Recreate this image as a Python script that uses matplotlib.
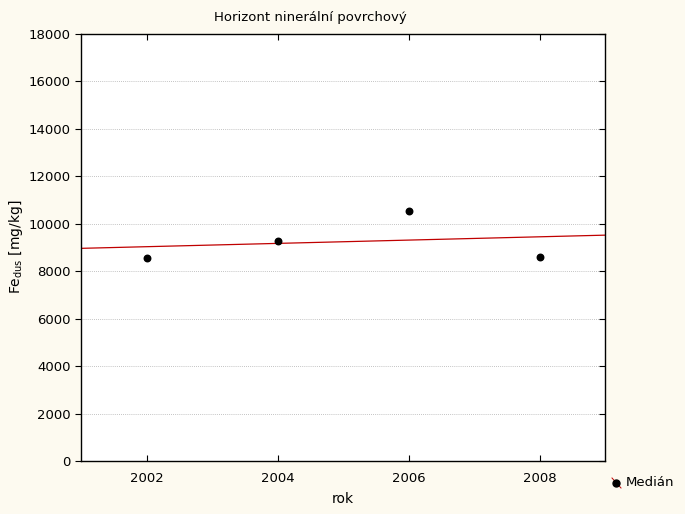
import numpy as np
import matplotlib
matplotlib.use("Agg")
import matplotlib.pyplot as plt
from matplotlib.lines import Line2D

years = [2002, 2004, 2006, 2008]
median = [8560, 9270, 10540, 8600]
yticks = [0, 2000, 4000, 6000, 8000, 10000, 12000, 14000, 16000, 18000]
xticks = [2002, 2004, 2006, 2008]

bg = "#fdfaf0"
W, H = 685, 514
fig = plt.figure(figsize=(6.85, 5.14), dpi=100, facecolor=bg)
ax = fig.add_axes([81/W, 1-461/H, (605-81)/W, (461-34)/H])
ax.set_facecolor("white")

ax.scatter(years, median, s=22, color="black", zorder=3)
coef = np.polyfit(years, median, 1)
xl = np.array([2001, 2009])
ax.plot(xl, np.polyval(coef, xl), color="#c00000", lw=0.9, zorder=2)

ax.set_xlim(2001, 2009)
ax.set_ylim(0, 18000)
ax.set_xticks(xticks)
ax.set_yticks(yticks)
ax.yaxis.grid(True, linestyle=(0, (1, 1.5)), color="#b0b0b0", lw=0.6)
ax.set_axisbelow(True)
for s in ax.spines.values():
    s.set_linewidth(1.0)
ax.tick_params(axis="x", direction="in", top=True, length=4, labelsize=9.5, pad=8)
ax.tick_params(axis="y", direction="out", length=4, labelsize=9.5, right=True)
for t in ax.yaxis.get_major_ticks():
    t.tick2line.set_marker(matplotlib.markers.TICKLEFT)

fig.text(310/W, 1-18/H, "Horizont ninerální povrchový", ha="center", va="center", fontsize=9.5)
fig.text(343/W, 1-499/H, "rok", ha="center", va="center", fontsize=10)
fig.text(16/W, 1-247/H, r"Fe$_{\mathregular{dus}}$ [mg/kg]", ha="center", va="center",
         rotation=90, fontsize=10)

# legend: marker with a small red diagonal line, then label
fig.add_artist(Line2D([612/W, 621/W], [1-478/H, 1-488/H], color="#c00000", lw=0.7,
                      transform=fig.transFigure))
fig.add_artist(Line2D([616/W], [1-483/H], marker="o", color="black", markersize=5,
                      linestyle="none", transform=fig.transFigure))
fig.text(626/W, 1-483/H, "Medián", ha="left", va="center", fontsize=9.5)

fig.savefig("out.png", dpi=100, facecolor=bg)
